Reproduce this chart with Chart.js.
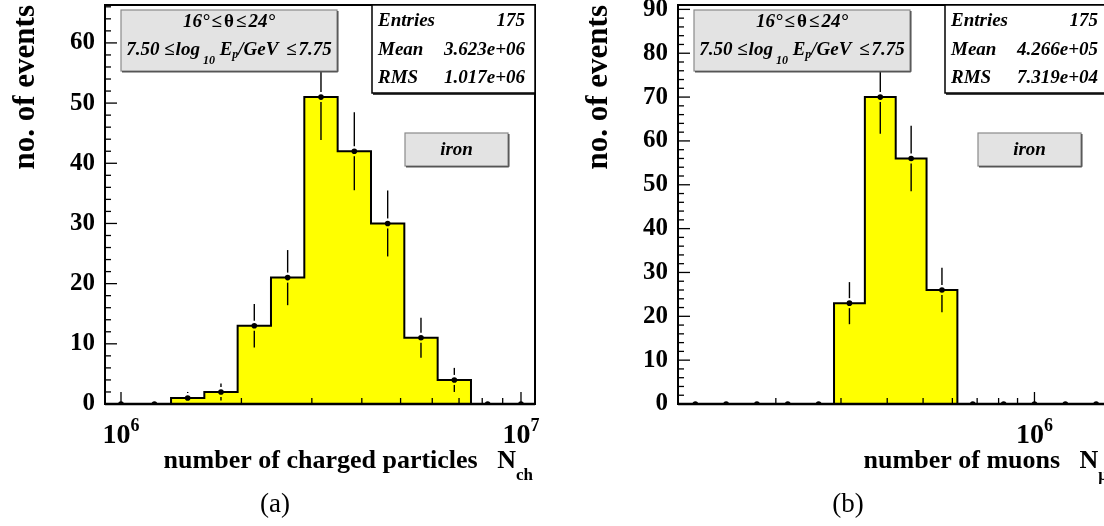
<!DOCTYPE html>
<html>
<head>
<meta charset="utf-8">
<script src="https://cdn.jsdelivr.net/npm/chart.js@4.4.1/dist/chart.umd.min.js"></script>
<style>
  html, body { margin: 0; padding: 0; background: #fff; overflow: hidden; }
  #wrap { position: relative; width: 1104px; height: 526px; overflow: hidden; }
  canvas { position: absolute; top: 0; }
  #chartA { left: 0; }
  #chartB { left: 573px; }
</style>
</head>
<body>
<div id="wrap">
  <canvas id="chartA" width="560" height="526"></canvas>
  <canvas id="chartB" width="560" height="526"></canvas>
</div>
<script>
// (a) number of charged particles
const nchCenters = [1.000e6, 1.212e6, 1.468e6, 1.778e6, 2.154e6, 2.610e6, 3.162e6, 3.831e6, 4.642e6, 5.623e6, 6.813e6, 8.254e6, 1.000e7];
const nchCounts = [0, 0, 1, 2, 13, 21, 51, 42, 30, 11, 4, 0, 0];
const nchErrors = [0, 0, 1, 1.41, 3.61, 4.58, 7.14, 6.48, 5.48, 3.32, 2, 0, 0];
const nchStats = ["175", "3.623e+06", "1.017e+06"];
const nchTicks = [1e6, 1e7];

// (b) number of muons
const nmuCenters = [1.212e5, 1.468e5, 1.778e5, 2.154e5, 2.610e5, 3.162e5, 3.831e5, 4.642e5, 5.623e5, 6.813e5, 8.254e5, 1.000e6, 1.212e6, 1.468e6];
const nmuCounts = [0, 0, 0, 0, 0, 23, 70, 56, 26, 0, 0, 0, 0, 0];
const nmuErrors = [0, 0, 0, 0, 0, 4.80, 8.37, 7.48, 5.10, 0, 0, 0, 0, 0];
const nmuStats = ["175", "4.266e+05", "7.319e+04"];
const nmuTicks = [1e6];

const statNames = ["Entries", "Mean", "RMS"];

const SERIF = "'Liberation Serif', 'Times New Roman', serif";
Chart.defaults.font.family = SERIF;

// draw a run of text pieces [text, size, dy, style]; a plain number is a gap in px
function richText(ctx, parts, x, y, align) {
    let w = 0;
    parts.forEach(p => {
        if (typeof p === "number") { w += p; return; }
        ctx.font = p[3] + " " + p[1] + "px " + SERIF;
        p.w = ctx.measureText(p[0]).width;
        w += p.w;
    });
    let cx = align === "center" ? x - w / 2 : align === "right" ? x - w : x;
    ctx.textAlign = "left";
    ctx.textBaseline = "alphabetic";
    parts.forEach(p => {
        if (typeof p === "number") { cx += p; return; }
        ctx.font = p[3] + " " + p[1] + "px " + SERIF;
        ctx.fillText(p[0], cx, y + p[2]);
        cx += p.w;
    });
}

function line(ctx, x1, y1, x2, y2) {
    ctx.beginPath();
    ctx.moveTo(x1, y1);
    ctx.lineTo(x2, y2);
    ctx.stroke();
}

function grayBox(ctx, x, y, w, h) {
    ctx.fillStyle = "#e3e3e3";
    ctx.fillRect(x, y, w, h);
    ctx.strokeStyle = "#8a8a8a";
    ctx.lineWidth = 1.2;
    ctx.strokeRect(x, y, w, h);
    ctx.strokeStyle = "#555";
    ctx.lineWidth = 1.5;
    line(ctx, x + 1, y + h + 0.8, x + w + 0.8, y + h + 0.8);
    line(ctx, x + w + 0.8, y + 1, x + w + 0.8, y + h + 0.8);
}

const decorPlugin = {
    id: "decor",
    afterDatasetsDraw(chart, args, opts) {
        const ctx = chart.ctx;
        const ca = chart.chartArea;
        const xs = chart.scales.x, ys = chart.scales.y;
        const p = opts.panel;

        ctx.save();
        // error bars
        ctx.strokeStyle = "#000";
        ctx.lineWidth = 1.4;
        p.centers.forEach((c, i) => {
            const e = p.errors[i];
            if (!e) return;
            const px = xs.getPixelForValue(c);
            const py = ys.getPixelForValue(p.counts[i]);
            const top = ys.getPixelForValue(p.counts[i] + e);
            const bot = ys.getPixelForValue(p.counts[i] - e);
            const gap = 5;
            if (py - top > gap) line(ctx, px, top, px, py - gap);
            if (bot - py > gap) line(ctx, px, py + gap, px, bot);
        });

        // frame
        ctx.strokeStyle = "#000";
        ctx.lineWidth = 2;
        ctx.strokeRect(ca.left, ca.top, ca.right - ca.left, ca.bottom - ca.top);

        // y ticks (inside)
        ctx.lineWidth = 1.3;
        for (let v = 2; v <= ys.max; v += 2) {
            const py = ys.getPixelForValue(v);
            line(ctx, ca.left, py, ca.left + (v % 10 === 0 ? 12 : 6), py);
        }
        // x ticks (log, inside)
        const e0 = Math.floor(Math.log10(xs.min)), e1 = Math.ceil(Math.log10(xs.max));
        for (let e = e0; e <= e1; e++) {
            for (let m = 1; m <= 9; m++) {
                const v = m * Math.pow(10, e);
                if (v < xs.min || v > xs.max) continue;
                const px = xs.getPixelForValue(v);
                line(ctx, px, ca.bottom, px, ca.bottom - (m === 1 ? 12 : 6));
            }
        }
        // histogram baseline over the frame
        ctx.lineWidth = 2.5;
        line(ctx, ca.left, ca.bottom, ca.right, ca.bottom);

        // x tick labels 10^n
        ctx.fillStyle = "#000";
        p.ticks.forEach(v => {
            const px = xs.getPixelForValue(v);
            const ex = Math.round(Math.log10(v));
            richText(ctx, [["10", 28, 0, "bold"], [String(ex), 18, -12, "bold"]], px, ca.bottom + 39, "center");
        });

        // axis titles
        richText(ctx, [[p.xTitle, 26, 0, "bold"], [p.xSub, 17, 12, "bold"]], ca.right - 2, ca.bottom + 64, "right");
        ctx.save();
        ctx.translate(33.5, ca.top);
        ctx.rotate(-Math.PI / 2);
        ctx.font = "bold 31px " + SERIF;
        ctx.textAlign = "right";
        ctx.textBaseline = "alphabetic";
        ctx.fillText("no. of events", 0, 0);
        ctx.restore();

        // panel tag
        richText(ctx, [[p.tag, 27, 0, ""]], 275, 512, "center");

        // cut info box
        const bx = ca.left + 16, by = ca.top + 5;
        grayBox(ctx, bx, by, 216, 61);
        ctx.fillStyle = "#000";
        richText(ctx, [
            ["16\u00b0", 19, 0, "italic bold"], 2,
            ["\u2264", 19, 0, "bold"], 2,
            ["\u03b8", 19, 0, "bold"], 2,
            ["\u2264", 19, 0, "bold"], 2,
            ["24\u00b0", 19, 0, "italic bold"]
        ], bx + 108, by + 17, "center");
        richText(ctx, [
            ["7.50 ", 19, 0, "italic bold"],
            ["\u2264", 19, 0, "bold"], 1,
            ["log", 19, 0, "italic bold"],
            [" 10", 12, 9, "italic bold"],
            [" E", 19, 0, "italic bold"],
            ["p", 12, 3, "italic bold"],
            ["/GeV ", 19, 0, "italic bold"], 3,
            ["\u2264", 19, 0, "bold"], 2,
            ["7.75", 19, 0, "italic bold"]
        ], bx + 108, by + 45, "center");

        // primary label box
        const ix = ca.left + 300, iy = ca.top + 128;
        grayBox(ctx, ix, iy, 103, 33);
        ctx.fillStyle = "#000";
        richText(ctx, [["iron", 19, 0, "italic bold"]], ix + 51.5, iy + 22, "center");

        // stats box
        const sx = ca.left + 267, sy = ca.top, sw = 163, sh = 88;
        ctx.fillStyle = "#fff";
        ctx.fillRect(sx, sy, sw, sh);
        ctx.strokeStyle = "#000";
        ctx.lineWidth = 1.5;
        ctx.strokeRect(sx, sy, sw, sh);
        line(ctx, sx + 1, sy + sh + 1, sx + sw + 1, sy + sh + 1);
        ctx.fillStyle = "#000";
        statNames.forEach((name, i) => {
            const yy = sy + 21 + i * 28.5;
            richText(ctx, [[name, 19, 0, "italic bold"]], sx + 6, yy, "left");
            richText(ctx, [[p.stats[i], 19, 0, "italic bold"]], sx + sw - 10, yy, "right");
        });
        ctx.restore();
    }
};

function makePanel(id, panel) {
    const pts = panel.centers.map((c, i) => ({ x: c, y: panel.counts[i] }));
    return new Chart(document.getElementById(id), {
        type: "line",
        data: {
            datasets: [
                {
                    data: pts,
                    stepped: "middle",
                    borderColor: "#000",
                    borderWidth: 2,
                    backgroundColor: "#ffff00",
                    fill: "origin",
                    pointRadius: 0,
                    order: 2
                },
                {
                    type: "scatter",
                    data: pts,
                    showLine: false,
                    pointRadius: 2.8,
                    pointBackgroundColor: "#000",
                    pointBorderWidth: 0,
                    order: 1
                }
            ]
        },
        options: {
            responsive: false,
            animation: false,
            events: [],
            layout: { padding: { left: 0, top: 5, right: panel.padRight, bottom: 0 } },
            plugins: {
                legend: { display: false },
                tooltip: { enabled: false },
                decor: { panel: panel }
            },
            scales: {
                x: {
                    type: "logarithmic",
                    min: panel.xMin,
                    max: panel.xMax,
                    grid: { display: false, drawTicks: false },
                    border: { display: false },
                    ticks: { display: false },
                    afterFit: s => { s.height = 122; s.paddingLeft = 0; s.paddingRight = 0; }
                },
                y: {
                    type: "linear",
                    min: 0,
                    max: panel.yMax,
                    grid: { display: false, drawTicks: false },
                    border: { display: false },
                    ticks: {
                        stepSize: 10,
                        includeBounds: false,
                        autoSkip: false,
                        padding: 10,
                        color: "#000",
                        font: { size: 25, weight: "bold", family: SERIF }
                    },
                    afterBuildTicks: s => { s.ticks = s.ticks.filter(t => t.value % 10 === 0); },
                    afterFit: s => { s.width = 105; s.paddingTop = 0; s.paddingBottom = 0; }
                }
            }
        },
        plugins: [decorPlugin]
    });
}

makePanel("chartA", {
    centers: nchCenters, counts: nchCounts, errors: nchErrors, stats: nchStats, ticks: nchTicks,
    xMin: 9.12e5, xMax: 1.084e7, yMax: 66.3, padRight: 25,
    xTitle: "number of charged particles   N", xSub: "ch", tag: "(a)"
});
makePanel("chartB", {
    centers: nmuCenters, counts: nmuCounts, errors: nmuErrors, stats: nmuStats, ticks: nmuTicks,
    xMin: 1.088e5, xMax: 1.600e6, yMax: 91, padRight: 23,
    xTitle: "number of muons   N", xSub: "\u03bc", tag: "(b)"
});
</script>
</body>
</html>
